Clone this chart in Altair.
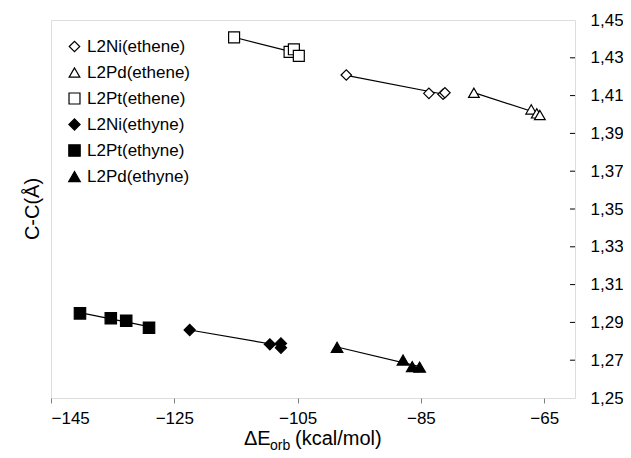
import altair as alt
import pandas as pd

series_names = ["L2Ni(ethene)", "L2Pd(ethene)", "L2Pt(ethene)",
                "L2Ni(ethyne)", "L2Pt(ethyne)", "L2Pd(ethyne)"]

ni_ethene_x = [-97.1, -83.7, -81.4, -81.1]
ni_ethene_y = [1.4209, 1.4112, 1.4107, 1.4115]
pd_ethene_x = [-76.4, -67.1, -66.2, -65.7]
pd_ethene_y = [1.4115, 1.4027, 1.4006, 1.3997]
pt_ethene_x = [-115.3, -106.3, -105.6, -104.8]
pt_ethene_y = [1.4408, 1.4331, 1.4345, 1.4310]
ni_ethyne_x = [-122.5, -109.5, -107.7, -107.7]
ni_ethyne_y = [1.2860, 1.2784, 1.2789, 1.2766]
pt_ethyne_x = [-140.3, -135.3, -132.8, -129.1]
pt_ethyne_y = [1.2948, 1.2922, 1.2909, 1.2872]
pd_ethyne_x = [-98.6, -87.9, -86.4, -85.2]
pd_ethyne_y = [1.2768, 1.2701, 1.2666, 1.2663]

x_ticks = [-145, -125, -105, -85, -65]
y_ticks = [1.25, 1.27, 1.29, 1.31, 1.33, 1.35, 1.37, 1.39, 1.41, 1.43, 1.45]

series_x = [ni_ethene_x, pd_ethene_x, pt_ethene_x, ni_ethyne_x, pt_ethyne_x, pd_ethyne_x]
series_y = [ni_ethene_y, pd_ethene_y, pt_ethene_y, ni_ethyne_y, pt_ethyne_y, pd_ethyne_y]

rows = []
for name, xs, ys in zip(series_names, series_x, series_y):
    for xv, yv in zip(xs, ys):
        rows.append({"series": name, "x": xv, "y": yv})
df = pd.DataFrame(rows)

W, H = 524, 378
FONT = "Liberation Sans"

shape_range = ["diamond", "triangle-up", "square", "diamond", "square", "triangle-up"]
fill_range = ["white", "white", "white", "black", "black", "black"]
stroke_range = ["black"] * 6
size_range = [110, 135, 90, 100, 90, 125]

xscale = alt.Scale(domain=[-145, -60], nice=False, zero=False)
yscale = alt.Scale(domain=[1.25, 1.45], nice=False, zero=False)

xaxis = alt.Axis(values=x_ticks, title=None, labelFontSize=17, tickSize=5,
                 labelPadding=7, grid=False, domain=False, labelColor="black",
                 tickColor="#808080", labelFont=FONT)
yaxis = alt.Axis(orient="right", values=y_ticks, title=None, labelFontSize=17,
                 ticks=False, domain=False, grid=False, labelPadding=15,
                 labelColor="black", labelFont=FONT,
                 labelExpr="replace(format(datum.value, '.2f'), '.', ',')")

legend = alt.Legend(title=None, orient="none", legendX=15, legendY=18, padding=0,
                    labelFontSize=17, labelFont=FONT, labelColor="black",
                    symbolStrokeWidth=1.2, rowPadding=8, labelOffset=4)

lines = alt.Chart(df).transform_regression(
    "x", "y", groupby=["series"]
).mark_line(color="black", strokeWidth=1.2).encode(
    x=alt.X("x:Q", scale=xscale, axis=xaxis),
    y=alt.Y("y:Q", scale=yscale, axis=yaxis),
    detail="series:N",
)

points = alt.Chart(df).mark_point(filled=True, strokeWidth=1.2, opacity=1,
                                  fillOpacity=1, strokeOpacity=1).encode(
    x=alt.X("x:Q", scale=xscale, axis=xaxis),
    y=alt.Y("y:Q", scale=yscale, axis=yaxis),
    shape=alt.Shape("series:N", scale=alt.Scale(domain=series_names, range=shape_range), legend=legend),
    fill=alt.Fill("series:N", scale=alt.Scale(domain=series_names, range=fill_range), legend=legend),
    stroke=alt.Stroke("series:N", scale=alt.Scale(domain=series_names, range=stroke_range), legend=legend),
    size=alt.Size("series:N", scale=alt.Scale(domain=series_names, range=size_range), legend=legend),
)

ytick_df = pd.DataFrame({"t": y_ticks[1:-1]})
yticks = alt.Chart(ytick_df).mark_rule(color="black", strokeWidth=1).encode(
    y=alt.Y("t:Q", scale=yscale, axis=yaxis),
    x=alt.value(W - 5),
    x2=alt.value(W),
)

one = pd.DataFrame({"a": [0]})
tx = 193
ty = 425
t1 = alt.Chart(one).mark_text(text="ΔE", font=FONT, fontSize=20, align="left",
                              baseline="alphabetic", fill="black").encode(
    x=alt.value(tx), y=alt.value(ty))
t2 = alt.Chart(one).mark_text(text="orb", font=FONT, fontSize=14, align="left",
                              baseline="alphabetic", fill="black").encode(
    x=alt.value(tx + 26), y=alt.value(ty + 5))
t3 = alt.Chart(one).mark_text(text="(kcal/mol)", font=FONT, fontSize=20, align="left",
                              baseline="alphabetic", fill="black").encode(
    x=alt.value(tx + 51), y=alt.value(ty))
ytitle = alt.Chart(one).mark_text(text="C-C(Å)", font=FONT, fontSize=20, align="center",
                                  baseline="middle", angle=270, fill="black").encode(
    x=alt.value(-18), y=alt.value(H / 2))

chart = alt.layer(lines, points, yticks, t1, t2, t3, ytitle).properties(
    width=W, height=H,
    autosize=alt.AutoSizeParams(type="none"),
    padding={"left": 43, "top": 12, "right": 48, "bottom": 60},
    background="white",
).configure_view(
    stroke="#808080", strokeWidth=1.5
).configure(font=FONT)

chart.save("out.html", embed_options={"renderer": "svg", "actions": False})
